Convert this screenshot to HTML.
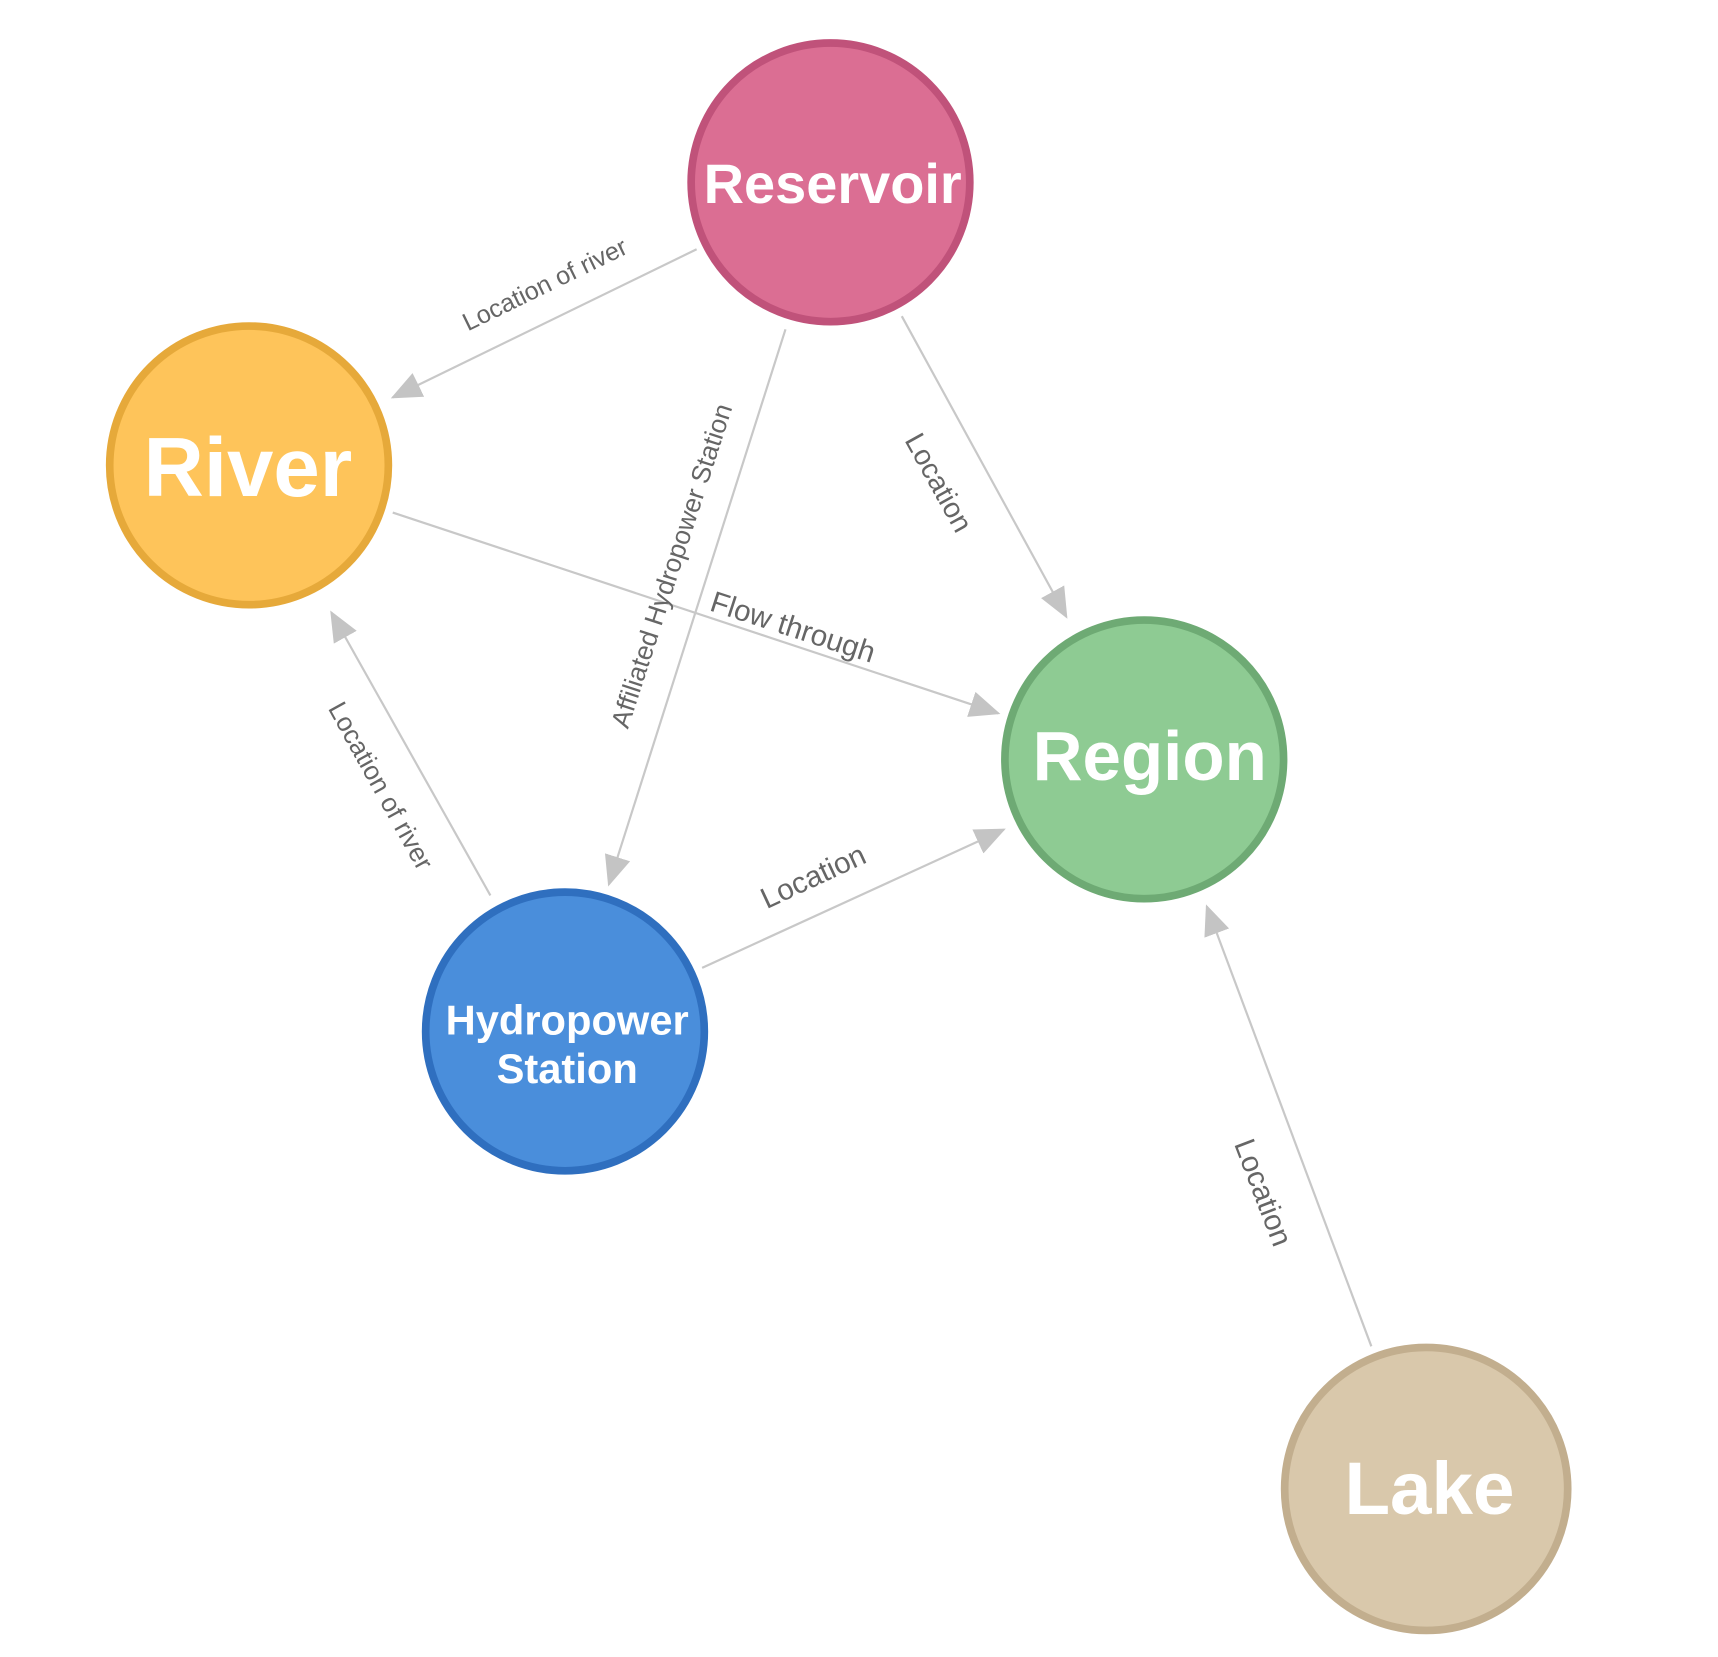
<!DOCTYPE html>
<html><head><meta charset="utf-8"><style>
html,body{margin:0;padding:0;background:#fff;}
svg{display:block;}
.e{stroke:#c8c8c8;stroke-width:2;fill:none;}
.l{font-family:"Liberation Sans",sans-serif;fill:#666;text-anchor:middle;}
.n{font-family:"Liberation Sans",sans-serif;font-weight:bold;fill:#fff;text-anchor:middle;}
</style></head><body>
<svg width="1718" height="1657" viewBox="0 0 1566 1510" xmlns="http://www.w3.org/2000/svg">
<defs><marker id="a" markerUnits="userSpaceOnUse" markerWidth="28" markerHeight="24" refX="26" refY="12" orient="auto"><path d="M0,0 L28,12 L0,24 z" fill="#c4c4c4"/></marker></defs>
<line class="e" x1="635" y1="227" x2="358" y2="362" marker-end="url(#a)"/>
<line class="e" x1="822" y1="288" x2="972" y2="562" marker-end="url(#a)"/>
<line class="e" x1="716" y1="300" x2="555" y2="806" marker-end="url(#a)"/>
<line class="e" x1="358" y1="467" x2="910" y2="650" marker-end="url(#a)"/>
<line class="e" x1="447" y1="816" x2="302" y2="558" marker-end="url(#a)"/>
<line class="e" x1="640" y1="882" x2="915" y2="756" marker-end="url(#a)"/>
<line class="e" x1="1250" y1="1227" x2="1100" y2="826" marker-end="url(#a)"/>
<text class="l" transform="translate(500,266) rotate(-26)" style="font-size:23px">Location of river</text>
<text class="l" transform="translate(848,444) rotate(61)" style="font-size:26px">Location</text>
<text class="l" transform="translate(620,518) rotate(-72)" style="font-size:24px">Affiliated Hydropower Station</text>
<text class="l" transform="translate(720,580) rotate(18)" style="font-size:27px">Flow through</text>
<text class="l" transform="translate(340,720) rotate(61)" style="font-size:24px">Location of river</text>
<text class="l" transform="translate(745,807) rotate(-25)" style="font-size:27px">Location</text>
<text class="l" transform="translate(1143,1090) rotate(69)" style="font-size:27px">Location</text>
<circle cx="757" cy="166" r="127" fill="#db6e93" stroke="#c0527a" stroke-width="7"/>
<circle cx="227" cy="424" r="127" fill="#fec45a" stroke="#e6a93a" stroke-width="7"/>
<circle cx="1043" cy="692" r="127" fill="#8ecb93" stroke="#6eaa74" stroke-width="7"/>
<circle cx="515" cy="940" r="127" fill="#4a8edb" stroke="#2f6fbf" stroke-width="7"/>
<circle cx="1300" cy="1357" r="129" fill="#d9c8ab" stroke="#c2ae8e" stroke-width="7"/>
<text class="n" x="759" y="185" style="font-size:51px">Reservoir</text>
<text class="n" x="226" y="452" style="font-size:76px">River</text>
<text class="n" x="1048" y="711" style="font-size:63px">Region</text>
<text class="n" x="517" y="943" style="font-size:38px">Hydropower</text>
<text class="n" x="517" y="987" style="font-size:38px">Station</text>
<text class="n" x="1303" y="1380" style="font-size:68px">Lake</text>
</svg>
</body></html>
